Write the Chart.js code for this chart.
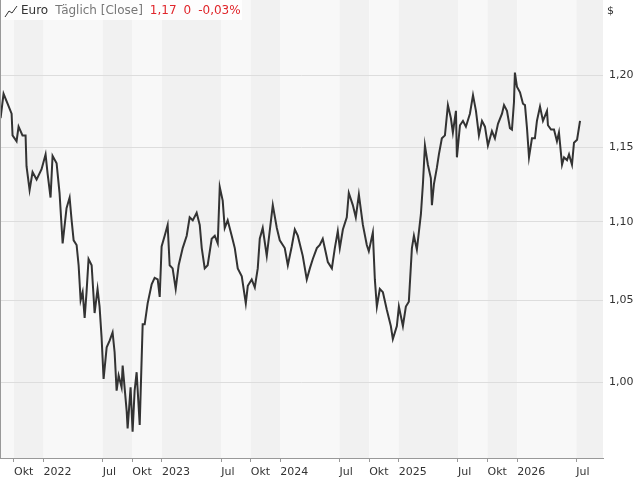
<!DOCTYPE html>
<html>
<head>
<meta charset="utf-8">
<script src="https://cdn.jsdelivr.net/npm/chart.js@4"></script>
<style>
  html, body { margin: 0; padding: 0; background: #fff; }
  #wrap { width: 640px; height: 480px; }
</style>
</head>
<body>
<div id="wrap"><canvas id="chart" width="640" height="480"></canvas></div>
<script>
// time as decimal years
const times = [
  2021.637, 2021.662, 2021.696, 2021.730, 2021.738, 2021.772, 2021.789, 2021.822, 2021.848, 2021.856,
  2021.882, 2021.907, 2021.941, 2021.983, 2022.017, 2022.034, 2022.059, 2022.076, 2022.110, 2022.135,
  2022.161, 2022.194, 2022.220, 2022.237, 2022.254, 2022.279, 2022.296, 2022.313, 2022.330, 2022.347,
  2022.363, 2022.380, 2022.406, 2022.431, 2022.456, 2022.473, 2022.490, 2022.507, 2022.533, 2022.558,
  2022.583, 2022.600, 2022.617, 2022.634, 2022.659, 2022.668, 2022.702, 2022.710, 2022.735, 2022.752,
  2022.769, 2022.786, 2022.812, 2022.837, 2022.854, 2022.879, 2022.913, 2022.938, 2022.964, 2022.981,
  2022.997, 2023.023, 2023.048, 2023.065, 2023.090, 2023.116, 2023.141, 2023.175, 2023.209, 2023.234,
  2023.260, 2023.293, 2023.319, 2023.336, 2023.361, 2023.386, 2023.420, 2023.446, 2023.471, 2023.488,
  2023.513, 2023.530, 2023.555, 2023.589, 2023.615, 2023.640, 2023.674, 2023.708, 2023.725, 2023.758,
  2023.784, 2023.809, 2023.826, 2023.851, 2023.885, 2023.910, 2023.936, 2023.970, 2023.995, 2024.037,
  2024.063, 2024.096, 2024.122, 2024.147, 2024.189, 2024.223, 2024.249, 2024.274, 2024.308, 2024.333,
  2024.358, 2024.384, 2024.401, 2024.435, 2024.460, 2024.485, 2024.502, 2024.528, 2024.561, 2024.578,
  2024.612, 2024.637, 2024.663, 2024.697, 2024.730, 2024.747, 2024.781, 2024.798, 2024.815, 2024.840,
  2024.866, 2024.899, 2024.933, 2024.950, 2024.984, 2025.001, 2025.035, 2025.060, 2025.085, 2025.111,
  2025.128, 2025.153, 2025.187, 2025.204, 2025.221, 2025.246, 2025.271, 2025.280, 2025.297, 2025.322,
  2025.339, 2025.364, 2025.390, 2025.415, 2025.440, 2025.457, 2025.483, 2025.491, 2025.517, 2025.542,
  2025.567, 2025.601, 2025.627, 2025.652, 2025.677, 2025.703, 2025.728, 2025.753, 2025.787, 2025.812,
  2025.838, 2025.872, 2025.889, 2025.914, 2025.939, 2025.956, 2025.973, 2025.981, 2025.998, 2026.024,
  2026.049, 2026.066, 2026.083, 2026.100, 2026.125, 2026.150, 2026.167, 2026.193, 2026.218, 2026.252,
  2026.260, 2026.286, 2026.311, 2026.336, 2026.353, 2026.379, 2026.396, 2026.421, 2026.438, 2026.463,
  2026.480, 2026.506, 2026.531
];
const closes = [
  1.170, 1.187, 1.180, 1.173, 1.158, 1.154, 1.164, 1.158, 1.158, 1.137,
  1.121, 1.133, 1.128, 1.135, 1.145, 1.132, 1.116, 1.144, 1.139, 1.119,
  1.086, 1.109, 1.116, 1.101, 1.088, 1.085, 1.072, 1.050, 1.055, 1.039,
  1.055, 1.076, 1.072, 1.042, 1.057, 1.046, 1.027, 1.002, 1.021, 1.025,
  1.030, 1.018, 0.995, 1.004, 0.997, 1.010, 0.983, 0.973, 0.997, 0.971,
  0.995, 1.006, 0.975, 1.035, 1.035, 1.048, 1.060, 1.064, 1.063, 1.052,
  1.084, 1.091, 1.098, 1.072, 1.070, 1.057, 1.072, 1.083, 1.091, 1.103,
  1.101, 1.106, 1.098, 1.083, 1.070, 1.072, 1.089, 1.091, 1.086, 1.123,
  1.114, 1.096, 1.101, 1.091, 1.083, 1.070, 1.065, 1.048, 1.059, 1.063,
  1.058, 1.070, 1.089, 1.096, 1.078, 1.094, 1.111, 1.096, 1.088, 1.083,
  1.072, 1.084, 1.095, 1.091, 1.078, 1.063, 1.070, 1.076, 1.083, 1.085,
  1.089, 1.080, 1.074, 1.070, 1.083, 1.094, 1.083, 1.095, 1.103, 1.119,
  1.111, 1.103, 1.118, 1.098, 1.085, 1.081, 1.093, 1.063, 1.046, 1.057,
  1.055, 1.044, 1.034, 1.026, 1.034, 1.046, 1.034, 1.046, 1.049, 1.083,
  1.091, 1.082, 1.105, 1.125, 1.151, 1.138, 1.129, 1.111, 1.125, 1.136,
  1.145, 1.156, 1.158, 1.179, 1.170, 1.160, 1.175, 1.143, 1.165, 1.168,
  1.164, 1.173, 1.186, 1.175, 1.158, 1.168, 1.164, 1.151, 1.161, 1.156,
  1.166, 1.173, 1.179, 1.175, 1.163, 1.162, 1.181, 1.202, 1.192, 1.188,
  1.180, 1.179, 1.163, 1.143, 1.156, 1.156, 1.168, 1.178, 1.168, 1.175,
  1.165, 1.162, 1.162, 1.154, 1.160, 1.138, 1.143, 1.141, 1.145, 1.138,
  1.153, 1.155, 1.168
];

const xTickValues = [2021.75, 2022, 2022.5, 2022.75, 2023, 2023.5, 2023.75, 2024, 2024.5, 2024.75, 2025, 2025.5, 2025.75, 2026, 2026.5];
const xTickLabels = ['Okt', '2022', 'Jul', 'Okt', '2023', 'Jul', 'Okt', '2024', 'Jul', 'Okt', '2025', 'Jul', 'Okt', '2026', 'Jul'];
const yTickValues = [1.00, 1.05, 1.10, 1.15, 1.20];

const FONT = 'DejaVu Sans';

// alternating shaded bands between the x ticks
const bands = {
  id: 'bands',
  beforeDraw(chart) {
    const { ctx, chartArea: a, scales: { x } } = chart;
    const edges = [x.min, ...xTickValues, x.max];
    ctx.save();
    for (let i = 0; i < edges.length - 1; i++) {
      const x0 = x.getPixelForValue(edges[i]);
      const x1 = x.getPixelForValue(edges[i + 1]);
      ctx.fillStyle = i % 2 ? '#f1f1f1' : '#f8f8f8';
      ctx.fillRect(x0, a.top, x1 - x0, a.bottom - a.top);
    }
    ctx.restore();
  },
  afterDraw(chart) {
    const { ctx, chartArea: a } = chart;
    ctx.save();
    // left border
    ctx.strokeStyle = '#999';
    ctx.lineWidth = 1;
    ctx.beginPath();
    ctx.moveTo(a.left + 0.5, a.top);
    ctx.lineTo(a.left + 0.5, a.bottom);
    ctx.stroke();
    // legend box
    ctx.fillStyle = 'rgba(255,255,255,0.85)';
    ctx.fillRect(1, 0, 241, 20);
    ctx.strokeStyle = '#333';
    ctx.beginPath();
    ctx.moveTo(5, 17); ctx.lineTo(9, 11); ctx.lineTo(12, 13); ctx.lineTo(17, 6);
    ctx.stroke();
    ctx.font = '12px "' + FONT + '"';
    ctx.textBaseline = 'middle';
    let px = 21;
    const parts = [['Euro', '#333'], ['Täglich [Close]', '#777'], ['1,17', '#e0262b'], ['0', '#e0262b'], ['-0,03%', '#e0262b']];
    for (const [t, c] of parts) {
      ctx.fillStyle = c;
      ctx.fillText(t, px, 11);
      px += ctx.measureText(t).width + 7;
    }
    // currency
    ctx.fillStyle = '#333';
    ctx.font = '11px "' + FONT + '"';
    ctx.fillText('$', 607, 11);
    ctx.restore();
  }
};

new Chart(document.getElementById('chart'), {
  type: 'line',
  data: {
    labels: times,
    datasets: [{
      data: times.map((t, i) => ({ x: t, y: closes[i] })),
      borderColor: '#333333',
      borderWidth: 2,
      pointRadius: 0,
      tension: 0,
      fill: false
    }]
  },
  plugins: [bands],
  options: {
    responsive: false,
    animation: false,
    layout: { padding: 0 },
    plugins: { legend: { display: false }, tooltip: { enabled: false } },
    scales: {
      x: {
        type: 'linear',
        min: 2021.632,
        max: 2026.725,
        afterBuildTicks: s => { s.ticks = xTickValues.map(v => ({ value: v })); },
        afterFit: s => { s.height = 22; s.paddingLeft = 0; s.paddingRight = 0; },
        ticks: {
          autoSkip: false,
          maxRotation: 0,
          align: 'start',
          padding: 4,
          color: '#333',
          font: { family: FONT, size: 11 },
          callback: (v) => xTickLabels[xTickValues.indexOf(v)]
        },
        grid: { drawOnChartArea: false, drawTicks: true, tickLength: 4, color: '#999' },
        border: { color: '#999' }
      },
      y: {
        type: 'logarithmic',
        position: 'right',
        min: 0.956,
        max: 1.255,
        afterBuildTicks: s => { s.ticks = yTickValues.map(v => ({ value: v })); },
        afterFit: s => { s.width = 37; s.paddingTop = 0; s.paddingBottom = 0; },
        ticks: {
          color: '#333',
          padding: 6,
          font: { family: FONT, size: 11 },
          callback: v => v.toFixed(2).replace('.', ',')
        },
        grid: { color: '#dddddd', drawTicks: false },
        border: { display: false }
      }
    }
  }
});
</script>
</body>
</html>
